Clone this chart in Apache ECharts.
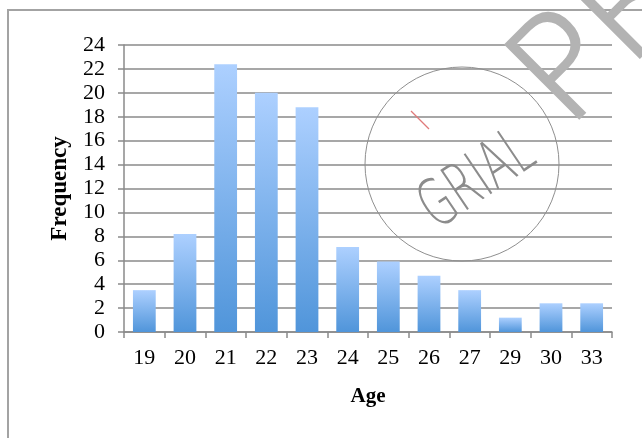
<!DOCTYPE html>
<html>
<head>
<meta charset="utf-8">
<script src="https://cdn.jsdelivr.net/npm/echarts@6/dist/echarts.min.js"></script>
<style>
  html, body { margin: 0; padding: 0; background: #fff; }
  #chart { width: 642px; height: 438px; }
</style>
</head>
<body>
<div id="chart"></div>
<script>
// Age groups and the share of respondents in each (%)
const ages = ['19', '20', '21', '22', '23', '24', '25', '26', '27', '29', '30', '33'];
const frequency = [3.5, 8.2, 22.4, 20.0, 18.8, 7.1, 5.9, 4.7, 3.5, 1.2, 2.4, 2.4];
const yTicks = [0, 2, 4, 6, 8, 10, 12, 14, 16, 18, 20, 22, 24];

const serif = '"Liberation Serif", "DejaVu Serif", serif';
const gridColor = '#8a8a8a';

const chart = echarts.init(document.getElementById('chart'), null, { renderer: 'canvas' });

chart.setOption({
  backgroundColor: '#ffffff',
  animation: false,
  grid: { left: 124, right: 30, top: 45, bottom: 106, containLabel: false },
  xAxis: {
    type: 'category',
    data: ages,
    name: 'Age',
    nameLocation: 'middle',
    nameGap: 54,
    nameTextStyle: { fontFamily: serif, fontWeight: 'bold', fontSize: 21, color: '#000' },
    axisLine: { show: true, lineStyle: { color: gridColor, width: 1.5 } },
    axisTick: { show: true, alignWithLabel: false, length: 6, lineStyle: { color: gridColor, width: 1.5 } },
    axisLabel: { fontFamily: serif, fontSize: 22, color: '#000', margin: 15 },
    splitLine: { show: false }
  },
  yAxis: {
    type: 'value',
    min: yTicks[0],
    max: yTicks[yTicks.length - 1],
    interval: 2,
    name: 'Frequency',
    nameLocation: 'middle',
    nameGap: 52,
    nameRotate: 90,
    nameTextStyle: { fontFamily: serif, fontWeight: 'bold', fontSize: 23, color: '#000' },
    axisLine: { show: true, lineStyle: { color: gridColor, width: 1.5 } },
    axisTick: { show: true, length: 6, lineStyle: { color: gridColor, width: 1.5 } },
    axisLabel: { fontFamily: serif, fontSize: 22, color: '#000', margin: 19 },
    splitLine: { show: true, lineStyle: { color: gridColor, width: 1.5 } }
  },
  series: [{
    type: 'bar',
    data: frequency,
    barWidth: '56%',
    itemStyle: {
      color: new echarts.graphic.LinearGradient(0, 0, 0, 1, [
        { offset: 0, color: '#add0ff' },
        { offset: 1, color: '#5095da' }
      ])
    }
  }],
  graphic: [
    // chart frame
    {
      type: 'rect', z: 0, silent: true,
      shape: { x: 8, y: 10, width: 700, height: 500 },
      style: { fill: 'none', stroke: '#a3a3a3', lineWidth: 2 }
    },
    // stamp
    {
      type: 'circle', z: 100, silent: true,
      shape: { cx: 462, cy: 164, r: 97 },
      style: { fill: 'none', stroke: '#8f8f8f', lineWidth: 1 }
    },
    {
      type: 'text', z: 100, silent: true,
      x: 478, y: 182, rotation: 34 * Math.PI / 180, scaleX: 0.62,
      style: {
        text: 'GRIAL', fill: '#8c8c8c',
        fontFamily: '"DejaVu Sans", sans-serif', fontWeight: 200, fontSize: 66,
        align: 'center', verticalAlign: 'middle'
      }
    },
    {
      type: 'line', z: 100, silent: true,
      shape: { x1: 411, y1: 111, x2: 429, y2: 129 },
      style: { stroke: '#e07a7a', lineWidth: 1.2 }
    },
    {
      type: 'text', z: 100, silent: true,
      x: 591, y: 154, rotation: 45 * Math.PI / 180,
      style: {
        text: 'PREPRINT', fill: '#b3b3b3', stroke: '#b3b3b3', lineWidth: 3,
        fontFamily: '"DejaVu Sans", sans-serif', fontWeight: 200, fontSize: 142,
        align: 'left', verticalAlign: 'bottom'
      }
    }
  ]
});
</script>
</body>
</html>
